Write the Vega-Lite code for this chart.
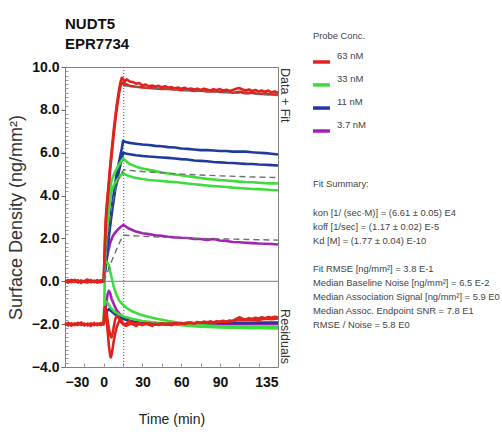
{
  "$schema": "https://vega.github.io/schema/vega-lite/v6.json",
  "background": "white",
  "padding": {"left": 6, "top": 16, "right": 0, "bottom": 0},
  "config": {
    "view": {"stroke": null},
    "axis": {"grid": false},
    "font": "Liberation Sans"
  },
  "datasets": {
    "curves": [
      {"s":"p1","t":0,"v":0},{"s":"p1","t":1,"v":0.5},{"s":"p1","t":2,"v":0.9},{"s":"p1","t":3,"v":1.25},{"s":"p1","t":4,"v":1.55},{"s":"p1","t":5,"v":1.8},{"s":"p1","t":6,"v":1.95},{"s":"p1","t":7,"v":2.1},{"s":"p1","t":8,"v":2.2},{"s":"p1","t":10,"v":2.35},{"s":"p1","t":12,"v":2.48},{"s":"p1","t":14,"v":2.58},{"s":"p1","t":15,"v":2.62},{"s":"p1","t":16,"v":2.6},{"s":"p1","t":18,"v":2.52},{"s":"p1","t":20,"v":2.45},{"s":"p1","t":25,"v":2.32},{"s":"p1","t":30,"v":2.24},{"s":"p1","t":35,"v":2.2},{"s":"p1","t":40,"v":2.15},{"s":"p1","t":45,"v":2.12},{"s":"p1","t":50,"v":2.08},{"s":"p1","t":55,"v":2.05},{"s":"p1","t":60,"v":2.03},{"s":"p1","t":65,"v":2.02},{"s":"p1","t":70,"v":1.98},{"s":"p1","t":75,"v":1.97},{"s":"p1","t":80,"v":1.93},{"s":"p1","t":85,"v":1.97},{"s":"p1","t":90,"v":1.9},{"s":"p1","t":95,"v":1.88},{"s":"p1","t":100,"v":1.83},{"s":"p1","t":105,"v":1.82},{"s":"p1","t":110,"v":1.8},{"s":"p1","t":115,"v":1.78},{"s":"p1","t":120,"v":1.76},{"s":"p1","t":125,"v":1.75},{"s":"p1","t":130,"v":1.74},{"s":"p1","t":135,"v":1.72},
      {"s":"pr","t":0,"v":-2},{"s":"pr","t":1,"v":-1.5},{"s":"pr","t":2,"v":-1.0},{"s":"pr","t":3,"v":-0.6},{"s":"pr","t":4,"v":-0.45},{"s":"pr","t":5,"v":-0.55},{"s":"pr","t":6,"v":-0.8},{"s":"pr","t":8,"v":-1.1},{"s":"pr","t":10,"v":-1.35},{"s":"pr","t":12,"v":-1.5},{"s":"pr","t":15,"v":-1.65},{"s":"pr","t":20,"v":-1.85},{"s":"pr","t":25,"v":-1.95},{"s":"pr","t":30,"v":-2.0},{"s":"pr","t":60,"v":-2.0},{"s":"pr","t":90,"v":-2.0},{"s":"pr","t":135,"v":-2.0},
      {"s":"b1","t":0,"v":0},{"s":"b1","t":1,"v":0.5},{"s":"b1","t":2,"v":1.1},{"s":"b1","t":3,"v":1.7},{"s":"b1","t":4,"v":2.3},{"s":"b1","t":5,"v":2.8},{"s":"b1","t":6,"v":3.3},{"s":"b1","t":7,"v":3.8},{"s":"b1","t":8,"v":4.2},{"s":"b1","t":9,"v":4.6},{"s":"b1","t":10,"v":5.0},{"s":"b1","t":11,"v":5.3},{"s":"b1","t":12,"v":5.6},{"s":"b1","t":13,"v":5.9},{"s":"b1","t":14,"v":6.2},{"s":"b1","t":15,"v":6.55},{"s":"b1","t":17,"v":6.5},{"s":"b1","t":20,"v":6.46},{"s":"b1","t":25,"v":6.42},{"s":"b1","t":30,"v":6.38},{"s":"b1","t":35,"v":6.36},{"s":"b1","t":40,"v":6.32},{"s":"b1","t":45,"v":6.3},{"s":"b1","t":50,"v":6.26},{"s":"b1","t":55,"v":6.24},{"s":"b1","t":60,"v":6.2},{"s":"b1","t":65,"v":6.18},{"s":"b1","t":70,"v":6.15},{"s":"b1","t":75,"v":6.12},{"s":"b1","t":80,"v":6.12},{"s":"b1","t":85,"v":6.1},{"s":"b1","t":90,"v":6.08},{"s":"b1","t":95,"v":6.08},{"s":"b1","t":100,"v":6.05},{"s":"b1","t":105,"v":6.06},{"s":"b1","t":110,"v":6.05},{"s":"b1","t":115,"v":6.02},{"s":"b1","t":120,"v":6.0},{"s":"b1","t":125,"v":5.98},{"s":"b1","t":130,"v":5.95},{"s":"b1","t":135,"v":5.92},
      {"s":"b2","t":0,"v":0},{"s":"b2","t":1,"v":0.45},{"s":"b2","t":2,"v":1.0},{"s":"b2","t":3,"v":1.55},{"s":"b2","t":4,"v":2.1},{"s":"b2","t":5,"v":2.6},{"s":"b2","t":6,"v":3.05},{"s":"b2","t":7,"v":3.5},{"s":"b2","t":8,"v":3.9},{"s":"b2","t":9,"v":4.3},{"s":"b2","t":10,"v":4.6},{"s":"b2","t":11,"v":4.9},{"s":"b2","t":12,"v":5.2},{"s":"b2","t":13,"v":5.45},{"s":"b2","t":14,"v":5.7},{"s":"b2","t":15,"v":6.0},{"s":"b2","t":17,"v":5.96},{"s":"b2","t":20,"v":5.93},{"s":"b2","t":25,"v":5.88},{"s":"b2","t":30,"v":5.85},{"s":"b2","t":35,"v":5.82},{"s":"b2","t":40,"v":5.8},{"s":"b2","t":45,"v":5.78},{"s":"b2","t":50,"v":5.76},{"s":"b2","t":55,"v":5.73},{"s":"b2","t":60,"v":5.7},{"s":"b2","t":65,"v":5.68},{"s":"b2","t":70,"v":5.64},{"s":"b2","t":75,"v":5.62},{"s":"b2","t":80,"v":5.6},{"s":"b2","t":85,"v":5.57},{"s":"b2","t":90,"v":5.55},{"s":"b2","t":95,"v":5.53},{"s":"b2","t":100,"v":5.52},{"s":"b2","t":105,"v":5.5},{"s":"b2","t":110,"v":5.48},{"s":"b2","t":115,"v":5.47},{"s":"b2","t":120,"v":5.45},{"s":"b2","t":125,"v":5.44},{"s":"b2","t":130,"v":5.42},{"s":"b2","t":135,"v":5.4},
      {"s":"br","t":0,"v":-2},{"s":"br","t":1,"v":-1.7},{"s":"br","t":2,"v":-1.45},{"s":"br","t":3,"v":-1.35},{"s":"br","t":4,"v":-1.3},{"s":"br","t":5,"v":-1.35},{"s":"br","t":6,"v":-1.4},{"s":"br","t":8,"v":-1.5},{"s":"br","t":10,"v":-1.6},{"s":"br","t":12,"v":-1.65},{"s":"br","t":15,"v":-1.75},{"s":"br","t":20,"v":-1.85},{"s":"br","t":25,"v":-1.9},{"s":"br","t":30,"v":-1.95},{"s":"br","t":45,"v":-2.0},{"s":"br","t":60,"v":-2.0},{"s":"br","t":75,"v":-1.98},{"s":"br","t":90,"v":-1.95},{"s":"br","t":105,"v":-1.95},{"s":"br","t":120,"v":-1.93},{"s":"br","t":135,"v":-1.92},
      {"s":"g1","t":0,"v":0},{"s":"g1","t":1,"v":1.2},{"s":"g1","t":2,"v":2.2},{"s":"g1","t":3,"v":3.0},{"s":"g1","t":4,"v":3.7},{"s":"g1","t":5,"v":4.3},{"s":"g1","t":6,"v":4.7},{"s":"g1","t":8,"v":5.0},{"s":"g1","t":10,"v":5.25},{"s":"g1","t":12,"v":5.45},{"s":"g1","t":14,"v":5.65},{"s":"g1","t":15,"v":5.74},{"s":"g1","t":17,"v":5.62},{"s":"g1","t":20,"v":5.48},{"s":"g1","t":25,"v":5.35},{"s":"g1","t":30,"v":5.26},{"s":"g1","t":35,"v":5.2},{"s":"g1","t":40,"v":5.14},{"s":"g1","t":45,"v":5.08},{"s":"g1","t":50,"v":5.03},{"s":"g1","t":55,"v":4.98},{"s":"g1","t":60,"v":4.95},{"s":"g1","t":65,"v":4.9},{"s":"g1","t":70,"v":4.86},{"s":"g1","t":75,"v":4.82},{"s":"g1","t":80,"v":4.78},{"s":"g1","t":85,"v":4.75},{"s":"g1","t":90,"v":4.72},{"s":"g1","t":95,"v":4.7},{"s":"g1","t":100,"v":4.68},{"s":"g1","t":105,"v":4.65},{"s":"g1","t":110,"v":4.63},{"s":"g1","t":115,"v":4.62},{"s":"g1","t":120,"v":4.6},{"s":"g1","t":125,"v":4.58},{"s":"g1","t":130,"v":4.57},{"s":"g1","t":135,"v":4.56},
      {"s":"g2","t":0,"v":0},{"s":"g2","t":1,"v":1.0},{"s":"g2","t":2,"v":1.9},{"s":"g2","t":3,"v":2.7},{"s":"g2","t":4,"v":3.3},{"s":"g2","t":5,"v":3.8},{"s":"g2","t":6,"v":4.2},{"s":"g2","t":8,"v":4.5},{"s":"g2","t":10,"v":4.7},{"s":"g2","t":12,"v":4.85},{"s":"g2","t":14,"v":5.0},{"s":"g2","t":15,"v":5.04},{"s":"g2","t":17,"v":4.98},{"s":"g2","t":20,"v":4.9},{"s":"g2","t":25,"v":4.82},{"s":"g2","t":30,"v":4.77},{"s":"g2","t":35,"v":4.73},{"s":"g2","t":40,"v":4.7},{"s":"g2","t":45,"v":4.68},{"s":"g2","t":50,"v":4.65},{"s":"g2","t":55,"v":4.63},{"s":"g2","t":60,"v":4.6},{"s":"g2","t":65,"v":4.56},{"s":"g2","t":70,"v":4.53},{"s":"g2","t":75,"v":4.5},{"s":"g2","t":80,"v":4.47},{"s":"g2","t":85,"v":4.44},{"s":"g2","t":90,"v":4.42},{"s":"g2","t":95,"v":4.4},{"s":"g2","t":100,"v":4.37},{"s":"g2","t":105,"v":4.35},{"s":"g2","t":110,"v":4.33},{"s":"g2","t":115,"v":4.31},{"s":"g2","t":120,"v":4.3},{"s":"g2","t":125,"v":4.28},{"s":"g2","t":130,"v":4.26},{"s":"g2","t":135,"v":4.25},
      {"s":"gr1","t":0,"v":-2},{"s":"gr1","t":0.5,"v":-1.0},{"s":"gr1","t":1,"v":0.95},{"s":"gr1","t":2.5,"v":0.9},{"s":"gr1","t":4,"v":0.75},{"s":"gr1","t":6,"v":0.2},{"s":"gr1","t":8,"v":-0.3},{"s":"gr1","t":10,"v":-0.65},{"s":"gr1","t":12,"v":-0.9},{"s":"gr1","t":15,"v":-1.1},{"s":"gr1","t":18,"v":-1.25},{"s":"gr1","t":22,"v":-1.4},{"s":"gr1","t":28,"v":-1.55},{"s":"gr1","t":35,"v":-1.67},{"s":"gr1","t":42,"v":-1.76},{"s":"gr1","t":50,"v":-1.85},{"s":"gr1","t":60,"v":-1.95},{"s":"gr1","t":70,"v":-2.02},{"s":"gr1","t":80,"v":-2.06},{"s":"gr1","t":90,"v":-2.1},{"s":"gr1","t":105,"v":-2.12},{"s":"gr1","t":120,"v":-2.14},{"s":"gr1","t":135,"v":-2.15},
      {"s":"gr2","t":0,"v":-2},{"s":"gr2","t":0.5,"v":-1.0},{"s":"gr2","t":1.5,"v":-0.95},{"s":"gr2","t":3,"v":-1.0},{"s":"gr2","t":5,"v":-1.2},{"s":"gr2","t":8,"v":-1.4},{"s":"gr2","t":12,"v":-1.55},{"s":"gr2","t":16,"v":-1.65},{"s":"gr2","t":22,"v":-1.75},{"s":"gr2","t":30,"v":-1.85},{"s":"gr2","t":40,"v":-1.92},{"s":"gr2","t":50,"v":-1.98},{"s":"gr2","t":60,"v":-2.05},{"s":"gr2","t":75,"v":-2.12},{"s":"gr2","t":90,"v":-2.15},{"s":"gr2","t":110,"v":-2.18},{"s":"gr2","t":135,"v":-2.2},
      {"s":"r1","t":-30,"v":0.04},{"s":"r1","t":-27.5,"v":-0.06},{"s":"r1","t":-25,"v":0.07},{"s":"r1","t":-22.5,"v":-0.03},{"s":"r1","t":-20,"v":0.05},{"s":"r1","t":-17.5,"v":-0.08},{"s":"r1","t":-15,"v":0.02},{"s":"r1","t":-12.5,"v":0.08},{"s":"r1","t":-10,"v":-0.05},{"s":"r1","t":-7.5,"v":0.03},{"s":"r1","t":-5,"v":-0.07},{"s":"r1","t":-2.5,"v":0.05},{"s":"r1","t":0,"v":0},{"s":"r1","t":0.5,"v":1.0},{"s":"r1","t":1,"v":2.0},{"s":"r1","t":1.5,"v":2.8},{"s":"r1","t":2,"v":3.3},{"s":"r1","t":3,"v":4.0},{"s":"r1","t":4,"v":4.7},{"s":"r1","t":5,"v":5.4},{"s":"r1","t":6,"v":6.0},{"s":"r1","t":7,"v":6.6},{"s":"r1","t":8,"v":7.2},{"s":"r1","t":9,"v":7.7},{"s":"r1","t":10,"v":8.2},{"s":"r1","t":11,"v":8.6},{"s":"r1","t":12,"v":9.0},{"s":"r1","t":13,"v":9.3},{"s":"r1","t":14,"v":9.5},{"s":"r1","t":15,"v":9.45},{"s":"r1","t":16,"v":9.3},{"s":"r1","t":17,"v":9.38},{"s":"r1","t":18,"v":9.42},{"s":"r1","t":20,"v":9.32},{"s":"r1","t":22.5,"v":9.3},{"s":"r1","t":25,"v":9.22},{"s":"r1","t":27.5,"v":9.25},{"s":"r1","t":30,"v":9.15},{"s":"r1","t":32.5,"v":9.18},{"s":"r1","t":35,"v":9.1},{"s":"r1","t":37.5,"v":9.14},{"s":"r1","t":40,"v":9.08},{"s":"r1","t":42.5,"v":9.12},{"s":"r1","t":45,"v":9.05},{"s":"r1","t":47.5,"v":9.1},{"s":"r1","t":50,"v":9.03},{"s":"r1","t":52.5,"v":9.06},{"s":"r1","t":55,"v":9.0},{"s":"r1","t":57.5,"v":9.04},{"s":"r1","t":60,"v":8.98},{"s":"r1","t":62.5,"v":9.03},{"s":"r1","t":65,"v":8.96},{"s":"r1","t":67.5,"v":9.0},{"s":"r1","t":70,"v":8.95},{"s":"r1","t":72.5,"v":8.99},{"s":"r1","t":75,"v":8.93},{"s":"r1","t":77.5,"v":8.98},{"s":"r1","t":80,"v":8.95},{"s":"r1","t":82.5,"v":8.9},{"s":"r1","t":85,"v":8.96},{"s":"r1","t":87.5,"v":8.92},{"s":"r1","t":90,"v":8.97},{"s":"r1","t":92.5,"v":8.9},{"s":"r1","t":95,"v":8.94},{"s":"r1","t":97.5,"v":8.88},{"s":"r1","t":100,"v":8.93},{"s":"r1","t":102.5,"v":8.98},{"s":"r1","t":105,"v":9.02},{"s":"r1","t":107.5,"v":8.95},{"s":"r1","t":110,"v":8.9},{"s":"r1","t":112.5,"v":8.95},{"s":"r1","t":115,"v":8.88},{"s":"r1","t":117.5,"v":8.93},{"s":"r1","t":120,"v":8.86},{"s":"r1","t":122.5,"v":8.9},{"s":"r1","t":125,"v":8.85},{"s":"r1","t":127.5,"v":8.9},{"s":"r1","t":130,"v":8.82},{"s":"r1","t":132.5,"v":8.86},{"s":"r1","t":135,"v":8.8},
      {"s":"r2","t":-30,"v":-0.05},{"s":"r2","t":-27.5,"v":0.06},{"s":"r2","t":-25,"v":-0.04},{"s":"r2","t":-22.5,"v":0.07},{"s":"r2","t":-20,"v":-0.06},{"s":"r2","t":-17.5,"v":0.04},{"s":"r2","t":-15,"v":-0.03},{"s":"r2","t":-12.5,"v":-0.06},{"s":"r2","t":-10,"v":0.06},{"s":"r2","t":-7.5,"v":-0.04},{"s":"r2","t":-5,"v":0.06},{"s":"r2","t":-2.5,"v":-0.05},{"s":"r2","t":0,"v":0},{"s":"r2","t":0.5,"v":0.9},{"s":"r2","t":1,"v":1.8},{"s":"r2","t":1.5,"v":2.6},{"s":"r2","t":2,"v":3.1},{"s":"r2","t":3,"v":3.8},{"s":"r2","t":4,"v":4.5},{"s":"r2","t":5,"v":5.2},{"s":"r2","t":6,"v":5.8},{"s":"r2","t":7,"v":6.4},{"s":"r2","t":8,"v":7.0},{"s":"r2","t":9,"v":7.5},{"s":"r2","t":10,"v":8.0},{"s":"r2","t":11,"v":8.4},{"s":"r2","t":12,"v":8.8},{"s":"r2","t":13,"v":9.1},{"s":"r2","t":14,"v":9.28},{"s":"r2","t":15,"v":9.25},{"s":"r2","t":16,"v":9.15},{"s":"r2","t":17,"v":9.2},{"s":"r2","t":18,"v":9.18},{"s":"r2","t":20,"v":9.12},{"s":"r2","t":25,"v":9.08},{"s":"r2","t":30,"v":9.05},{"s":"r2","t":35,"v":9.02},{"s":"r2","t":40,"v":9.0},{"s":"r2","t":45,"v":8.98},{"s":"r2","t":50,"v":8.97},{"s":"r2","t":55,"v":8.95},{"s":"r2","t":60,"v":8.92},{"s":"r2","t":65,"v":8.93},{"s":"r2","t":70,"v":8.88},{"s":"r2","t":75,"v":8.9},{"s":"r2","t":80,"v":8.86},{"s":"r2","t":85,"v":8.87},{"s":"r2","t":90,"v":8.83},{"s":"r2","t":95,"v":8.85},{"s":"r2","t":100,"v":8.8},{"s":"r2","t":105,"v":8.84},{"s":"r2","t":110,"v":8.78},{"s":"r2","t":115,"v":8.8},{"s":"r2","t":120,"v":8.75},{"s":"r2","t":125,"v":8.76},{"s":"r2","t":130,"v":8.72},{"s":"r2","t":135,"v":8.72},
      {"s":"rr1","t":-30,"v":-2.05},{"s":"rr1","t":-27.5,"v":-1.94},{"s":"rr1","t":-25,"v":-2.07},{"s":"rr1","t":-22.5,"v":-1.96},{"s":"rr1","t":-20,"v":-2.04},{"s":"rr1","t":-17.5,"v":-1.92},{"s":"rr1","t":-15,"v":-2.06},{"s":"rr1","t":-12.5,"v":-1.97},{"s":"rr1","t":-10,"v":-2.09},{"s":"rr1","t":-7.5,"v":-1.95},{"s":"rr1","t":-5,"v":-2.05},{"s":"rr1","t":-2.5,"v":-1.95},{"s":"rr1","t":0,"v":-2.0},{"s":"rr1","t":0.5,"v":-1.5},{"s":"rr1","t":1,"v":-1.2},{"s":"rr1","t":2,"v":-1.6},{"s":"rr1","t":3,"v":-2.3},{"s":"rr1","t":4,"v":-3.0},{"s":"rr1","t":5,"v":-3.45},{"s":"rr1","t":5.5,"v":-3.55},{"s":"rr1","t":6,"v":-3.45},{"s":"rr1","t":7,"v":-3.1},{"s":"rr1","t":8,"v":-2.7},{"s":"rr1","t":9,"v":-2.4},{"s":"rr1","t":10,"v":-2.15},{"s":"rr1","t":11,"v":-1.98},{"s":"rr1","t":12,"v":-1.85},{"s":"rr1","t":13,"v":-1.8},{"s":"rr1","t":14,"v":-1.85},{"s":"rr1","t":15,"v":-1.95},{"s":"rr1","t":16,"v":-2.05},{"s":"rr1","t":18,"v":-1.95},{"s":"rr1","t":20,"v":-1.85},{"s":"rr1","t":22.5,"v":-2.0},{"s":"rr1","t":25,"v":-2.08},{"s":"rr1","t":27.5,"v":-1.98},{"s":"rr1","t":30,"v":-2.05},{"s":"rr1","t":32.5,"v":-1.95},{"s":"rr1","t":35,"v":-2.02},{"s":"rr1","t":37.5,"v":-2.08},{"s":"rr1","t":40,"v":-1.97},{"s":"rr1","t":42.5,"v":-2.04},{"s":"rr1","t":45,"v":-1.96},{"s":"rr1","t":47.5,"v":-2.02},{"s":"rr1","t":50,"v":-1.98},{"s":"rr1","t":52.5,"v":-2.05},{"s":"rr1","t":55,"v":-1.97},{"s":"rr1","t":57.5,"v":-2.0},{"s":"rr1","t":60,"v":-1.94},{"s":"rr1","t":62.5,"v":-2.0},{"s":"rr1","t":65,"v":-1.95},{"s":"rr1","t":67.5,"v":-1.92},{"s":"rr1","t":70,"v":-1.97},{"s":"rr1","t":72.5,"v":-1.9},{"s":"rr1","t":75,"v":-1.95},{"s":"rr1","t":77.5,"v":-1.88},{"s":"rr1","t":80,"v":-1.93},{"s":"rr1","t":82.5,"v":-1.87},{"s":"rr1","t":85,"v":-1.92},{"s":"rr1","t":87.5,"v":-1.86},{"s":"rr1","t":90,"v":-1.9},{"s":"rr1","t":92.5,"v":-1.84},{"s":"rr1","t":95,"v":-1.89},{"s":"rr1","t":97.5,"v":-1.83},{"s":"rr1","t":100,"v":-1.85},{"s":"rr1","t":102.5,"v":-1.76},{"s":"rr1","t":105,"v":-1.68},{"s":"rr1","t":107.5,"v":-1.75},{"s":"rr1","t":110,"v":-1.78},{"s":"rr1","t":112.5,"v":-1.72},{"s":"rr1","t":115,"v":-1.76},{"s":"rr1","t":117.5,"v":-1.7},{"s":"rr1","t":120,"v":-1.74},{"s":"rr1","t":122.5,"v":-1.68},{"s":"rr1","t":125,"v":-1.72},{"s":"rr1","t":127.5,"v":-1.67},{"s":"rr1","t":130,"v":-1.7},{"s":"rr1","t":132.5,"v":-1.66},{"s":"rr1","t":135,"v":-1.68},
      {"s":"rr2","t":-30,"v":-1.95},{"s":"rr2","t":-27.5,"v":-2.06},{"s":"rr2","t":-25,"v":-1.96},{"s":"rr2","t":-22.5,"v":-2.05},{"s":"rr2","t":-20,"v":-1.94},{"s":"rr2","t":-17.5,"v":-2.04},{"s":"rr2","t":-15,"v":-1.97},{"s":"rr2","t":-12.5,"v":-2.06},{"s":"rr2","t":-10,"v":-1.96},{"s":"rr2","t":-7.5,"v":-2.05},{"s":"rr2","t":-5,"v":-1.96},{"s":"rr2","t":-2.5,"v":-2.04},{"s":"rr2","t":0,"v":-2.0},{"s":"rr2","t":0.5,"v":-1.4},{"s":"rr2","t":1,"v":-1.2},{"s":"rr2","t":2,"v":-1.4},{"s":"rr2","t":3,"v":-1.8},{"s":"rr2","t":4,"v":-2.2},{"s":"rr2","t":5,"v":-2.5},{"s":"rr2","t":6,"v":-2.62},{"s":"rr2","t":7,"v":-2.4},{"s":"rr2","t":8,"v":-2.05},{"s":"rr2","t":9,"v":-1.75},{"s":"rr2","t":10,"v":-1.62},{"s":"rr2","t":11,"v":-1.65},{"s":"rr2","t":12,"v":-1.75},{"s":"rr2","t":13,"v":-1.88},{"s":"rr2","t":15,"v":-2.0},{"s":"rr2","t":17.5,"v":-2.08},{"s":"rr2","t":20,"v":-2.0},{"s":"rr2","t":25,"v":-1.95},{"s":"rr2","t":30,"v":-2.0},{"s":"rr2","t":35,"v":-1.96},{"s":"rr2","t":40,"v":-2.02},{"s":"rr2","t":45,"v":-1.97},{"s":"rr2","t":50,"v":-2.0},{"s":"rr2","t":55,"v":-1.95},{"s":"rr2","t":60,"v":-1.98},{"s":"rr2","t":65,"v":-1.93},{"s":"rr2","t":70,"v":-1.96},{"s":"rr2","t":75,"v":-1.92},{"s":"rr2","t":80,"v":-1.9},{"s":"rr2","t":85,"v":-1.94},{"s":"rr2","t":90,"v":-1.88},{"s":"rr2","t":95,"v":-1.9},{"s":"rr2","t":100,"v":-1.85},{"s":"rr2","t":105,"v":-1.8},{"s":"rr2","t":110,"v":-1.82},{"s":"rr2","t":115,"v":-1.78},{"s":"rr2","t":120,"v":-1.8},{"s":"rr2","t":125,"v":-1.75},{"s":"rr2","t":130,"v":-1.77},{"s":"rr2","t":135,"v":-1.74}
    ],
    "fits": [
      {"s":"pf","t":0,"v":0},{"s":"pf","t":3,"v":0.45},{"s":"pf","t":6.6,"v":1.0},{"s":"pf","t":10,"v":1.5},{"s":"pf","t":13,"v":1.9},{"s":"pf","t":15.5,"v":2.15},{"s":"pf","t":30,"v":2.1},{"s":"pf","t":45,"v":2.06},{"s":"pf","t":60,"v":2.03},{"s":"pf","t":75,"v":2.0},{"s":"pf","t":90,"v":1.98},{"s":"pf","t":105,"v":1.96},{"s":"pf","t":120,"v":1.94},{"s":"pf","t":135,"v":1.92},
      {"s":"gf","t":0,"v":0},{"s":"gf","t":3,"v":2.0},{"s":"gf","t":6,"v":3.4},{"s":"gf","t":9,"v":4.3},{"s":"gf","t":12,"v":4.85},{"s":"gf","t":15.5,"v":5.2},{"s":"gf","t":30,"v":5.12},{"s":"gf","t":45,"v":5.06},{"s":"gf","t":60,"v":5.0},{"s":"gf","t":75,"v":4.96},{"s":"gf","t":90,"v":4.92},{"s":"gf","t":105,"v":4.89},{"s":"gf","t":120,"v":4.86},{"s":"gf","t":135,"v":4.84},
      {"s":"rf","t":15.5,"v":9.12},{"s":"rf","t":30,"v":9.05},{"s":"rf","t":45,"v":8.98},{"s":"rf","t":60,"v":8.92},{"s":"rf","t":75,"v":8.87},{"s":"rf","t":90,"v":8.82},{"s":"rf","t":105,"v":8.77},{"s":"rf","t":120,"v":8.72},{"s":"rf","t":135,"v":8.67}
    ],
    "legend": [
      {"s":"r1","lab":"63 nM","row":3.07},
      {"s":"g1","lab":"33 nM","row":4.71},
      {"s":"b1","lab":"11 nM","row":6.36},
      {"s":"p1","lab":"3.7 nM","row":8.0}
    ],
    "summary": [
      {"lab":"Probe Conc.","row":1.64},
      {"lab":"Fit Summary:","row":12.2},
      {"lab":"kon  [1/ (sec·M)]  =   (6.61 ± 0.05) E4","row":14.3},
      {"lab":"koff  [1/sec]  =   (1.17 ± 0.02) E-5","row":15.3},
      {"lab":"Kd  [M]  =   (1.77 ± 0.04) E-10","row":16.3},
      {"lab":"Fit RMSE [ng/mm²]  =   3.8 E-1","row":18.3},
      {"lab":"Median Baseline Noise [ng/mm²]  =   6.5 E-2","row":19.3},
      {"lab":"Median Association Signal [ng/mm²]  =   5.9 E0","row":20.3},
      {"lab":"Median Assoc. Endpoint SNR  =   7.8 E1","row":21.3},
      {"lab":"RMSE / Noise  =   5.8 E0","row":22.3}
    ]
  },
  "hconcat": [
    {
      "width": 213,
      "height": 300,
      "view": {"stroke": "#808080", "strokeWidth": 1},
      "title": {
        "text": ["NUDT5", "EPR7734"],
        "anchor": "start",
        "frame": "group",
        "font": "Liberation Sans",
        "fontSize": 15,
        "fontWeight": "bold",
        "lineHeight": 20,
        "color": "#111111",
        "offset": 8
      },
      "resolve": {"axis": {"x": "independent", "y": "independent"}},
      "layer": [
        {
          "data": {"values": [{"v": 0}]},
          "mark": {"type": "rule", "color": "#7a7a7a", "strokeWidth": 1},
          "encoding": {
            "y": {
              "field": "v", "type": "quantitative",
              "scale": {"domain": [-4, 10], "nice": false, "zero": false},
              "axis": {
                "orient": "left", "title": null, "labels": false, "domain": false,
                "tickSize": -3, "tickColor": "#9a9a9a",
                "values": [-3.8,-3.6,-3.4,-3.2,-3,-2.8,-2.6,-2.4,-2.2,-1.8,-1.6,-1.4,-1.2,-1,-0.8,-0.6,-0.4,-0.2,0.2,0.4,0.6,0.8,1,1.2,1.4,1.6,1.8,2.2,2.4,2.6,2.8,3,3.2,3.4,3.6,3.8,4.2,4.4,4.6,4.8,5,5.2,5.4,5.6,5.8,6.2,6.4,6.6,6.8,7,7.2,7.4,7.6,7.8,8.2,8.4,8.6,8.8,9,9.2,9.4,9.6,9.8]
              }
            }
          }
        },
        {
          "data": {"values": [{"t": 15.5}]},
          "mark": {"type": "rule", "color": "#555555", "strokeWidth": 1, "strokeDash": [1, 2]},
          "encoding": {
            "x": {
              "field": "t", "type": "quantitative",
              "scale": {"domain": [-30, 135], "nice": false, "zero": false},
              "axis": {
                "orient": "bottom", "title": null, "labels": false, "domain": false,
                "tickSize": -4, "tickColor": "#9a9a9a",
                "values": [-15, 0, 15, 30, 45, 60, 75, 90, 105, 120]
              }
            }
          }
        },
        {
          "data": {"name": "curves"},
          "mark": {"type": "line", "strokeWidth": 2.6, "strokeJoin": "round"},
          "encoding": {
            "x": {
              "field": "t", "type": "quantitative",
              "scale": {"domain": [-30, 135], "nice": false, "zero": false},
              "axis": {
                "orient": "bottom", "title": "Time (min)", "domain": false,
                "values": [-30, 0, 30, 60, 90, 135],
                "tickSize": 0, "labelPadding": 8,
                "labelFont": "Liberation Sans",
                "labelFontWeight": "bold", "labelFontSize": 14, "labelColor": "#111111",
                "titleFont": "Liberation Sans",
                "titleFontWeight": "normal", "titleFontSize": 14, "titleColor": "#222222",
                "titlePadding": 23
              }
            },
            "y": {
              "field": "v", "type": "quantitative",
              "scale": {"domain": [-4, 10], "nice": false, "zero": false},
              "axis": {
                "orient": "left", "title": "Surface Density (ng/mm²)", "domain": false,
                "values": [-4, -2, 0, 2, 4, 6, 8, 10], "format": ".1f",
                "tickSize": 4, "tickColor": "#666666", "labelPadding": 2,
                "labelFont": "Liberation Sans",
                "labelFontWeight": "bold", "labelFontSize": 14, "labelColor": "#111111",
                "titleFont": "Liberation Sans", "titleFontWeight": "normal",
                "titleFontSize": 18, "titleColor": "#333333", "titlePadding": 6
              }
            },
            "color": {
              "field": "s", "type": "nominal", "legend": null,
              "scale": {
                "domain": ["p1","pr","b1","b2","br","g1","g2","gr1","gr2","r1","r2","rr1","rr2"],
                "range": ["#a322b5","#a322b5","#1e3a9c","#1e3a9c","#1e3a9c","#3fdc3f","#3fdc3f","#3fdc3f","#3fdc3f","#e0231d","#e0231d","#e0231d","#e0231d"]
              }
            }
          }
        },
        {
          "data": {"name": "fits"},
          "mark": {"type": "line", "strokeWidth": 1.4, "strokeDash": [6, 4], "color": "#6e6e6e"},
          "encoding": {
            "x": {"field": "t", "type": "quantitative", "axis": null},
            "y": {"field": "v", "type": "quantitative", "axis": null},
            "detail": {"field": "s"}
          }
        },
        {
          "data": {"values": [{"t": 135, "v": 10, "lab": "Data + Fit"}]},
          "mark": {"type": "text", "angle": 90, "align": "left", "baseline": "bottom", "dx": 1, "dy": 0, "fontSize": 12.5, "color": "#333333"},
          "encoding": {
            "x": {"field": "t", "type": "quantitative", "axis": null},
            "y": {"field": "v", "type": "quantitative", "axis": null},
            "text": {"field": "lab"}
          }
        },
        {
          "data": {"values": [{"t": 135, "v": -4, "lab": "Residuals"}]},
          "mark": {"type": "text", "angle": 90, "align": "right", "baseline": "bottom", "dx": -3, "dy": 0, "fontSize": 12.5, "color": "#333333"},
          "encoding": {
            "x": {"field": "t", "type": "quantitative", "axis": null},
            "y": {"field": "v", "type": "quantitative", "axis": null},
            "text": {"field": "lab"}
          }
        }
      ]
    },
    {
      "width": 207,
      "height": 300,
      "layer": [
        {
          "data": {"name": "legend"},
          "mark": {"type": "rule", "strokeWidth": 3.5},
          "encoding": {
            "x": {"datum": 1.93, "type": "quantitative", "scale": {"domain": [0, 20], "nice": false}, "axis": null},
            "x2": {"datum": 3.57},
            "y": {"field": "row", "type": "quantitative", "scale": {"domain": [3.857, 25.286], "reverse": true, "nice": false, "zero": false}, "axis": null},
            "yOffset": {"value": 6},
            "color": {"field": "s", "type": "nominal", "legend": null}
          }
        },
        {
          "data": {"name": "legend"},
          "mark": {"type": "text", "align": "left", "baseline": "middle", "font": "Liberation Sans", "fontSize": 9.5, "color": "#444444"},
          "encoding": {
            "x": {"datum": 4.25, "type": "quantitative"},
            "y": {"field": "row", "type": "quantitative"},
            "text": {"field": "lab"}
          }
        },
        {
          "data": {"name": "summary"},
          "mark": {"type": "text", "align": "left", "baseline": "middle", "font": "Liberation Sans", "fontSize": 9.4, "color": "#444444"},
          "encoding": {
            "x": {"datum": 1.93, "type": "quantitative"},
            "y": {"field": "row", "type": "quantitative"},
            "text": {"field": "lab"}
          }
        }
      ]
    }
  ],
  "spacing": 1
}
